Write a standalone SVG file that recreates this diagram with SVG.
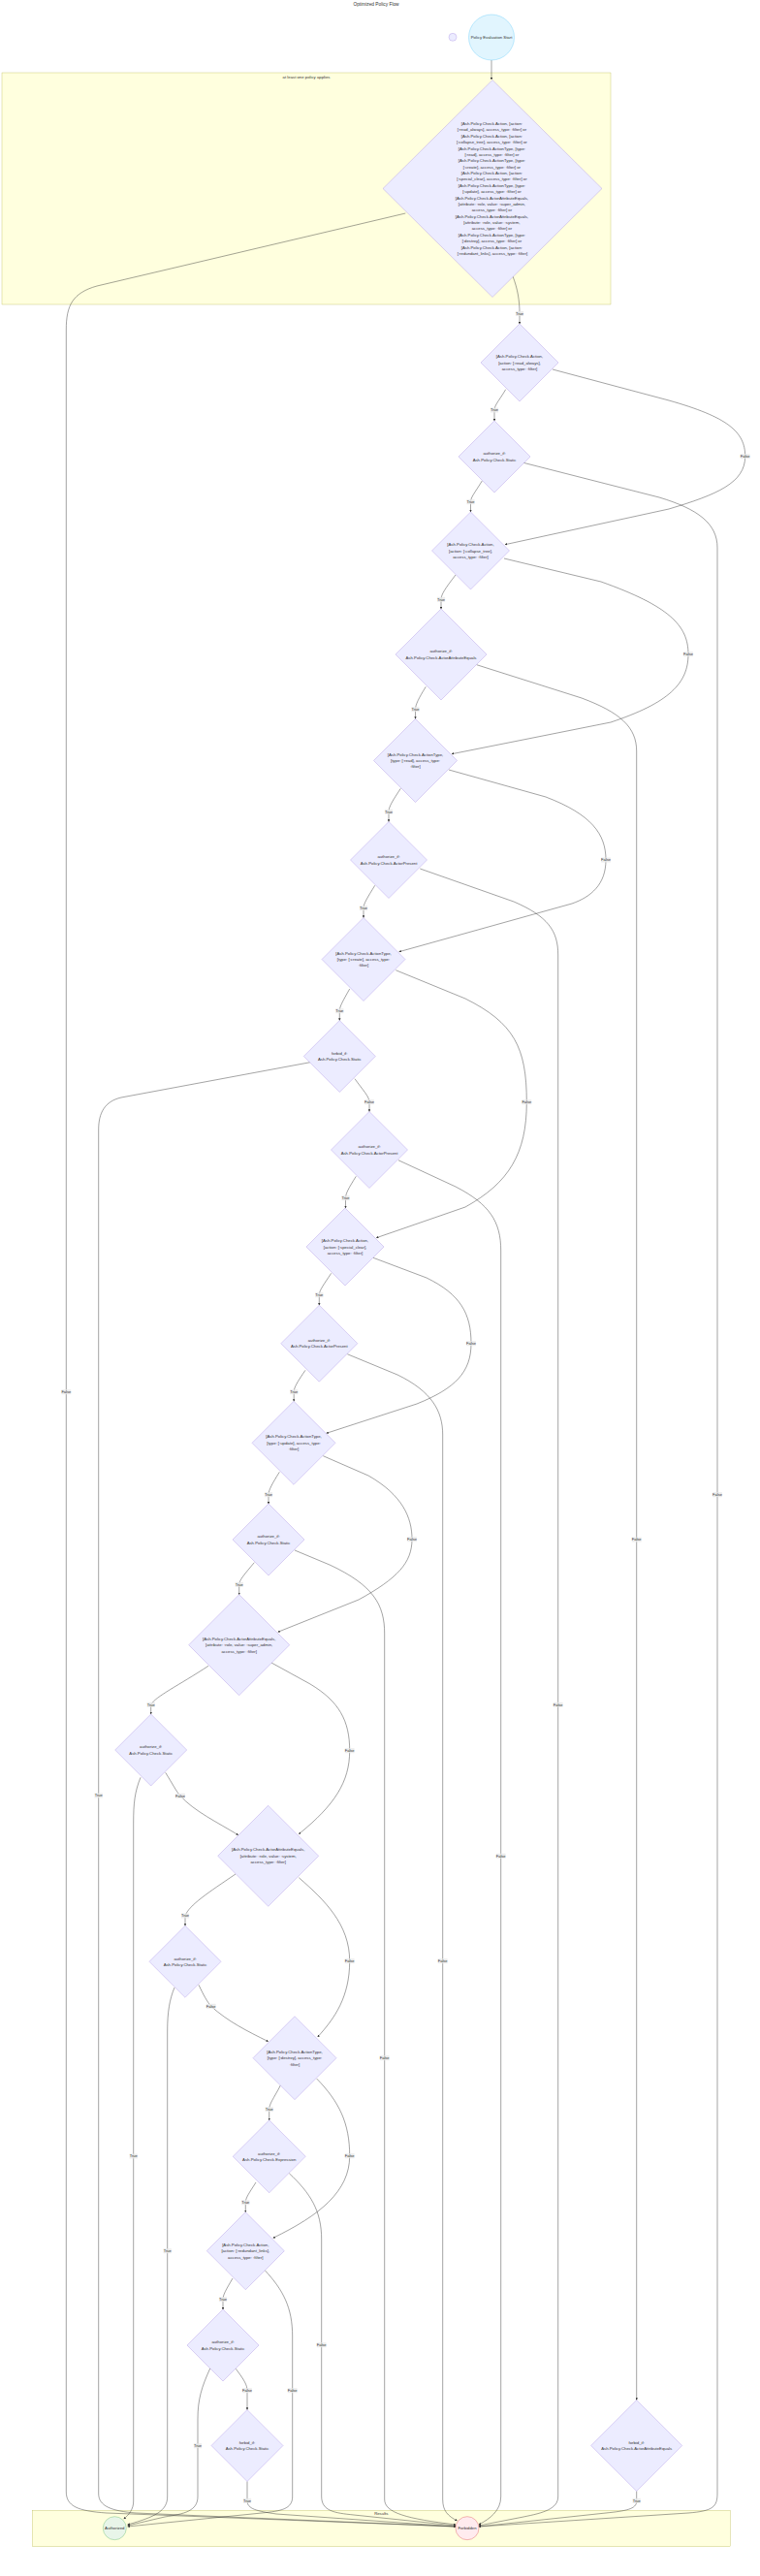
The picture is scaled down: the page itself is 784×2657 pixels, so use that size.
<svg xmlns="http://www.w3.org/2000/svg" width="784" height="2657" viewBox="0 0 784 2657">
<style>
text{font-family:"Liberation Sans",Arial,sans-serif;fill:#333}
.nt{font-size:4.27px;text-anchor:middle}
.ttl{font-size:4.8px;text-anchor:middle}
.cl{fill:#ffffde;stroke:#aaaa33;stroke-width:0.3}
.dm{fill:#ECECFF;stroke:#9370DB;stroke-width:0.3}
.e{fill:none;stroke:#333;stroke-width:0.45}
.lb rect{fill:#e8e8e8;opacity:0.8}
.lb text{font-size:4px;text-anchor:middle}
</style>
<defs>
<marker id="arr" viewBox="0 0 10 10" refX="9" refY="5" markerWidth="2.4" markerHeight="2.4" markerUnits="userSpaceOnUse" orient="auto"><path d="M0,0 L10,5 L0,10 z" fill="#333"/></marker>
</defs>
<rect width="784" height="2657" fill="#fff"/>
<text class="ttl" x="388" y="5.8">Optimized Policy Flow</text>
<g id="cluster-policy">
<rect class="cl" x="2" y="75" width="628" height="239"/>
<text class="nt" x="316" y="80.8">at least one policy applies</text>
</g>
<g id="cluster-results">
<rect class="cl" x="33.3" y="2589.3" width="720" height="37.4"/>
<text class="nt" x="393.3" y="2594">Results</text>
</g>
<g id="connectors">
<path class="e" marker-end="url(#arr)" d="M507,62 L507,82"/>
<path class="e" marker-end="url(#arr)" d="M529,285 C534,298 536,310 536,323 L536,334"/>
<path class="e" marker-end="url(#arr)" d="M521.7,401.7 C515,413 510,418 510,423 L510,434"/>
<path class="e" marker-end="url(#arr)" d="M570,381 L690,413 C750,430 768.7,445 768.7,470.7 C768.7,498 740,510 690,525 L521,561.7"/>
<path class="e" marker-end="url(#arr)" d="M497.3,496 C490,508 485.5,513 485.5,517.7 L485.5,528"/>
<path class="e" marker-end="url(#arr)" d="M540,477.3 L680,513 C720,525 740,540 740,565 L740,2572 C740,2586 735,2590 710,2592 L494,2606"/>
<path class="e" marker-end="url(#arr)" d="M470,593 C460,606 455,613 455,618.3 L455,628"/>
<path class="e" marker-end="url(#arr)" d="M520,576 L620,600 C690,625 710,645 710,674.7 C710,705 690,725 630,745 L466,777.7"/>
<path class="e" marker-end="url(#arr)" d="M439.3,708.3 C432,720 428.5,727 428.5,731.7 L428.5,741.5"/>
<path class="e" marker-end="url(#arr)" d="M491.7,685.7 L600,720 C640,735 656.7,750 656.7,775 L656.7,2475.5"/>
<path class="e" marker-end="url(#arr)" d="M413.3,813.3 C405,826 401,832 401,837.3 L401,847.5"/>
<path class="e" marker-end="url(#arr)" d="M463,794 L563,822 C610,840 625,860 625,887 C625,912 610,925 590,932 L411.7,981.7"/>
<path class="e" marker-end="url(#arr)" d="M386.7,913.3 C379,926 375,932 375,936.7 L375,946.5"/>
<path class="e" marker-end="url(#arr)" d="M433.3,896 L530,930 C565,945 575.7,960 575.7,985 L575.7,2575 C575.7,2588 560,2592 540,2596 L494,2605"/>
<path class="e" marker-end="url(#arr)" d="M360.7,1020 C354,1032 350.3,1038 350.3,1042.7 L350.3,1052.5"/>
<path class="e" marker-end="url(#arr)" d="M408.3,1000.7 L480,1030 C530,1055 543.3,1080 543.3,1136.7 C543.3,1190 525,1220 480,1245 L388.3,1276.7"/>
<path class="e" marker-end="url(#arr)" d="M366,1112.7 C374,1124 381,1131 381,1136.7 L381,1146.5"/>
<path class="e" marker-end="url(#arr)" d="M320,1095.7 L125,1132 C108,1136 101.7,1148 101.7,1165 L101.7,2572 C101.7,2585 115,2590 140,2592 L470,2606"/>
<path class="e" marker-end="url(#arr)" d="M367.3,1213.3 C360,1225 356.5,1231 356.5,1235.7 L356.5,1246"/>
<path class="e" marker-end="url(#arr)" d="M411,1196.7 L470,1224 C505,1242 516.7,1260 516.7,1290 L516.7,2575 C516.7,2590 505,2598 494,2604"/>
<path class="e" marker-end="url(#arr)" d="M341.7,1313.3 C334,1325 329.3,1331 329.3,1335.7 L329.3,1346.2"/>
<path class="e" marker-end="url(#arr)" d="M385,1297.3 L440,1318 C475,1335 486,1355 486,1385.7 C486,1415 470,1432 430,1448 L336.7,1478.3"/>
<path class="e" marker-end="url(#arr)" d="M315,1413.3 C307,1425 303.2,1431 303.2,1435.7 L303.2,1445.3"/>
<path class="e" marker-end="url(#arr)" d="M358.3,1396.7 L410,1418 C445,1435 456.7,1455 456.7,1480 L456.7,2578 C456.7,2590 462,2595 471.5,2600"/>
<path class="e" marker-end="url(#arr)" d="M288.3,1518.3 C281,1530 277,1537 277,1541.7 L277,1551"/>
<path class="e" marker-end="url(#arr)" d="M333.3,1501.7 L380,1522 C415,1542 425,1565 425,1587.7 C425,1612 410,1628 370,1650 L286.7,1683.3"/>
<path class="e" marker-end="url(#arr)" d="M262.3,1611.7 C252,1624 246.7,1630 246.7,1634.3 L246.7,1644.7"/>
<path class="e" marker-end="url(#arr)" d="M304,1599 L340,1614 C385,1635 396.7,1655 396.7,1685 L396.7,2578 C396.7,2592 420,2598 470,2604"/>
<path class="e" marker-end="url(#arr)" d="M215,1718.3 C185,1738 160,1750 155.7,1758.3 L155.7,1768"/>
<path class="e" marker-end="url(#arr)" d="M280,1715 L320,1737 C350,1755 360.7,1775 360.7,1805.7 C360.7,1838 345,1862 308.3,1891.7"/>
<path class="e" marker-end="url(#arr)" d="M145,1833.3 C139,1848 137.7,1860 137.7,1880 L137.7,2580 C137.7,2588 133,2594 127.7,2598"/>
<path class="e" marker-end="url(#arr)" d="M170.7,1828.3 C178,1840 182,1848 186,1852.3 C200,1868 225,1880 245.7,1892.7"/>
<path class="e" marker-end="url(#arr)" d="M243,1933 C215,1952 195,1965 191,1976 L191,1986.3"/>
<path class="e" marker-end="url(#arr)" d="M308.3,1936.7 C335,1960 360.7,1985 360.7,2022.7 C360.7,2060 345,2082 327.7,2101"/>
<path class="e" marker-end="url(#arr)" d="M180,2050 C175,2062 172.7,2075 172.7,2095 L172.7,2575 C172.7,2590 160,2596 131.7,2604"/>
<path class="e" marker-end="url(#arr)" d="M205,2047.3 C210,2058 214,2065 217.7,2069.3 C235,2085 255,2095 276.7,2105.7"/>
<path class="e" marker-end="url(#arr)" d="M289.3,2151 C282,2165 277.7,2170 277.7,2175.7 L277.7,2186.8"/>
<path class="e" marker-end="url(#arr)" d="M326.7,2144 C350,2168 360.7,2190 360.7,2223.7 C360.7,2260 330,2285 281.7,2308.3"/>
<path class="e" marker-end="url(#arr)" d="M264,2251 C257,2262 253.3,2267 253.3,2271.7 L253.3,2281.7"/>
<path class="e" marker-end="url(#arr)" d="M298.3,2241.7 C320,2262 331.7,2280 331.7,2310 L331.7,2575 C331.7,2590 345,2592 365,2594 L470,2605"/>
<path class="e" marker-end="url(#arr)" d="M240,2350 C233,2362 230,2367 230,2371.7 L230,2382"/>
<path class="e" marker-end="url(#arr)" d="M273.3,2341.7 C292,2362 301.7,2380 301.7,2410 L301.7,2575 C301.7,2588 290,2590 270,2592 L131.7,2606"/>
<path class="e" marker-end="url(#arr)" d="M216.7,2443 C208,2462 204,2475 204,2495 L204,2575 C204,2590 190,2593 170,2596 L131.7,2605"/>
<path class="e" marker-end="url(#arr)" d="M243.3,2443.3 C252,2455 255,2460 255,2465.7 L255,2485.5"/>
<path class="e" marker-end="url(#arr)" d="M255,2559.5 L255,2579.3 C255,2588 265,2590 285,2593 L470,2606"/>
<path class="e" marker-end="url(#arr)" d="M656.7,2569.5 L656.7,2580 C656.7,2588 645,2590 625,2592 L494,2606"/>
<path class="e" marker-end="url(#arr)" d="M418.3,220 L100,295 C75,302 68.3,315 68.3,340 L68.3,2570 C68.3,2585 80,2590 110,2592 L470,2606"/>
</g>
<g id="edge-labels" class="lb">
<rect x="531.9" y="321" width="8.2" height="5"/><text x="536" y="324.9">True</text>
<rect x="505.9" y="420.5" width="8.2" height="5"/><text x="510" y="424.4">True</text>
<rect x="763.8" y="468.2" width="9.8" height="5"/><text x="768.7" y="472.1">False</text>
<rect x="481.4" y="515.2" width="8.2" height="5"/><text x="485.5" y="519.1">True</text>
<rect x="705.1" y="672.2" width="9.8" height="5"/><text x="710" y="676.1">False</text>
<rect x="450.9" y="615.8" width="8.2" height="5"/><text x="455" y="619.7">True</text>
<rect x="424.4" y="729.2" width="8.2" height="5"/><text x="428.5" y="733.1">True</text>
<rect x="620.1" y="884.5" width="9.8" height="5"/><text x="625" y="888.4">False</text>
<rect x="396.9" y="834.8" width="8.2" height="5"/><text x="401" y="838.7">True</text>
<rect x="370.9" y="934.2" width="8.2" height="5"/><text x="375" y="938.1">True</text>
<rect x="538.4" y="1134.2" width="9.8" height="5"/><text x="543.3" y="1138.1">False</text>
<rect x="346.2" y="1040.2" width="8.2" height="5"/><text x="350.3" y="1044.1">True</text>
<rect x="376.1" y="1134.2" width="9.8" height="5"/><text x="381" y="1138.1">False</text>
<rect x="352.4" y="1233.2" width="8.2" height="5"/><text x="356.5" y="1237.1">True</text>
<rect x="325.2" y="1333.2" width="8.2" height="5"/><text x="329.3" y="1337.1">True</text>
<rect x="481.1" y="1383.2" width="9.8" height="5"/><text x="486" y="1387.1">False</text>
<rect x="299.1" y="1433.2" width="8.2" height="5"/><text x="303.2" y="1437.1">True</text>
<rect x="420.1" y="1585.2" width="9.8" height="5"/><text x="425" y="1589.1">False</text>
<rect x="272.9" y="1539.2" width="8.2" height="5"/><text x="277" y="1543.1">True</text>
<rect x="242.6" y="1631.8" width="8.2" height="5"/><text x="246.7" y="1635.7">True</text>
<rect x="151.6" y="1755.8" width="8.2" height="5"/><text x="155.7" y="1759.7">True</text>
<rect x="355.8" y="1803.2" width="9.8" height="5"/><text x="360.7" y="1807.1">False</text>
<rect x="181.1" y="1849.8" width="9.8" height="5"/><text x="186" y="1853.7">False</text>
<rect x="186.9" y="1973.5" width="8.2" height="5"/><text x="191" y="1977.4">True</text>
<rect x="212.8" y="2066.8" width="9.8" height="5"/><text x="217.7" y="2070.7">False</text>
<rect x="355.8" y="2020.2" width="9.8" height="5"/><text x="360.7" y="2024.1">False</text>
<rect x="273.6" y="2173.2" width="8.2" height="5"/><text x="277.7" y="2177.1">True</text>
<rect x="355.8" y="2221.2" width="9.8" height="5"/><text x="360.7" y="2225.1">False</text>
<rect x="249.2" y="2269.2" width="8.2" height="5"/><text x="253.3" y="2273.1">True</text>
<rect x="225.9" y="2369.2" width="8.2" height="5"/><text x="230" y="2373.1">True</text>
<rect x="296.8" y="2463.2" width="9.8" height="5"/><text x="301.7" y="2467.1">False</text>
<rect x="250.1" y="2463.2" width="9.8" height="5"/><text x="255" y="2467.1">False</text>
<rect x="250.9" y="2576.8" width="8.2" height="5"/><text x="255" y="2580.7">True</text>
<rect x="652.6" y="2576.8" width="8.2" height="5"/><text x="656.7" y="2580.7">True</text>
<rect x="326.8" y="2416.2" width="9.8" height="5"/><text x="331.7" y="2420.1">False</text>
<rect x="168.6" y="2319.2" width="8.2" height="5"/><text x="172.7" y="2323.1">True</text>
<rect x="199.9" y="2520.2" width="8.2" height="5"/><text x="204" y="2524.1">True</text>
<rect x="133.6" y="2221.5" width="8.2" height="5"/><text x="137.7" y="2225.4">True</text>
<rect x="97.6" y="1849.5" width="8.2" height="5"/><text x="101.7" y="1853.4">True</text>
<rect x="63.4" y="1433.2" width="9.8" height="5"/><text x="68.3" y="1437.1">False</text>
<rect x="391.8" y="2120.2" width="9.8" height="5"/><text x="396.7" y="2124.1">False</text>
<rect x="451.8" y="2020.2" width="9.8" height="5"/><text x="456.7" y="2024.1">False</text>
<rect x="511.8" y="1911.8" width="9.8" height="5"/><text x="516.7" y="1915.7">False</text>
<rect x="570.8" y="1755.8" width="9.8" height="5"/><text x="575.7" y="1759.7">False</text>
<rect x="651.8" y="1585.5" width="9.8" height="5"/><text x="656.7" y="1589.4">False</text>
<rect x="735.1" y="1539.2" width="9.8" height="5"/><text x="740" y="1543.1">False</text>
</g>
<g id="start">
<circle cx="507" cy="38.5" r="23.5" fill="#e1f5fe" stroke="#81d4fa" stroke-width="0.5"/>
<text class="nt" x="507" y="40">Policy Evaluation Start</text>
</g>
<g id="start-marker">
<circle cx="467" cy="38.3" r="4" fill="#ECECFF" stroke="#9370DB" stroke-width="0.3"/>
</g>
<g id="check-any">
<polygon class="dm" points="508,82.5 621,194.5 508,306.5 395,194.5"/>
<text class="nt" x="508" y="129">
<tspan x="508">[Ash.Policy.Check.Action, [action:</tspan>
<tspan x="508" dy="6.38">[:read_always], access_type: :filter] or</tspan>
<tspan x="508" dy="6.38">[Ash.Policy.Check.Action, [action:</tspan>
<tspan x="508" dy="6.38">[:collapse_tree], access_type: :filter] or</tspan>
<tspan x="508" dy="6.38">[Ash.Policy.Check.ActionType, [type:</tspan>
<tspan x="508" dy="6.38">[:read], access_type: :filter] or</tspan>
<tspan x="508" dy="6.38">[Ash.Policy.Check.ActionType, [type:</tspan>
<tspan x="508" dy="6.38">[:create], access_type: :filter] or</tspan>
<tspan x="508" dy="6.38">[Ash.Policy.Check.Action, [action:</tspan>
<tspan x="508" dy="6.38">[:special_clear], access_type: :filter] or</tspan>
<tspan x="508" dy="6.38">[Ash.Policy.Check.ActionType, [type:</tspan>
<tspan x="508" dy="6.38">[:update], access_type: :filter] or</tspan>
<tspan x="508" dy="6.38">[Ash.Policy.Check.ActorAttributeEquals,</tspan>
<tspan x="508" dy="6.38">[attribute: :role, value: :super_admin,</tspan>
<tspan x="508" dy="6.38">access_type: :filter] or</tspan>
<tspan x="508" dy="6.38">[Ash.Policy.Check.ActorAttributeEquals,</tspan>
<tspan x="508" dy="6.38">[attribute: :role, value: :system,</tspan>
<tspan x="508" dy="6.38">access_type: :filter] or</tspan>
<tspan x="508" dy="6.38">[Ash.Policy.Check.ActionType, [type:</tspan>
<tspan x="508" dy="6.38">[:destroy], access_type: :filter] or</tspan>
<tspan x="508" dy="6.38">[Ash.Policy.Check.Action, [action:</tspan>
<tspan x="508" dy="6.38">[:redundant_links], access_type: :filter]</tspan>
</text>
</g>
<g id="p1-action">
<polygon class="dm" points="536,334 576,374 536,414 496,374"/>
<text class="nt"><tspan x="536" y="369.1">[Ash.Policy.Check.Action,</tspan><tspan x="536" y="375.5">[action: [:read_always],</tspan><tspan x="536" y="381.9">access_type: :filter]</tspan></text>
</g>
<g id="p1-auth">
<polygon class="dm" points="510,434 547,471 510,508 473,471"/>
<text class="nt"><tspan x="510" y="469.3">authorize_if:</tspan><tspan x="510" y="475.7">Ash.Policy.Check.Static</tspan></text>
</g>
<g id="p2-action">
<polygon class="dm" points="485.5,528 525.5,568 485.5,608 445.5,568"/>
<text class="nt"><tspan x="485.5" y="563.1">[Ash.Policy.Check.Action,</tspan><tspan x="485.5" y="569.5">[action: [:collapse_tree],</tspan><tspan x="485.5" y="575.9">access_type: :filter]</tspan></text>
</g>
<g id="p2-auth">
<polygon class="dm" points="455,628 502,675 455,722 408,675"/>
<text class="nt"><tspan x="455" y="673.3">authorize_if:</tspan><tspan x="455" y="679.7">Ash.Policy.Check.ActorAttributeEquals</tspan></text>
</g>
<g id="p3-type">
<polygon class="dm" points="428.5,741.5 471.5,784.5 428.5,827.5 385.5,784.5"/>
<text class="nt"><tspan x="428.5" y="779.6">[Ash.Policy.Check.ActionType,</tspan><tspan x="428.5" y="786">[type: [:read], access_type:</tspan><tspan x="428.5" y="792.4">:filter]</tspan></text>
</g>
<g id="p3-auth">
<polygon class="dm" points="401,847.5 440.5,887 401,926.5 361.5,887"/>
<text class="nt"><tspan x="401" y="885.3">authorize_if:</tspan><tspan x="401" y="891.7">Ash.Policy.Check.ActorPresent</tspan></text>
</g>
<g id="p4-type">
<polygon class="dm" points="375,946.5 418,989.5 375,1032.5 332,989.5"/>
<text class="nt"><tspan x="375" y="984.6">[Ash.Policy.Check.ActionType,</tspan><tspan x="375" y="991">[type: [:create], access_type:</tspan><tspan x="375" y="997.4">:filter]</tspan></text>
</g>
<g id="p4-forbid">
<polygon class="dm" points="350.3,1052.5 387.3,1089.5 350.3,1126.5 313.3,1089.5"/>
<text class="nt"><tspan x="350.3" y="1087.8">forbid_if:</tspan><tspan x="350.3" y="1094.2">Ash.Policy.Check.Static</tspan></text>
</g>
<g id="p4-auth">
<polygon class="dm" points="381,1146.5 420.5,1186 381,1225.5 341.5,1186"/>
<text class="nt"><tspan x="381" y="1184.3">authorize_if:</tspan><tspan x="381" y="1190.7">Ash.Policy.Check.ActorPresent</tspan></text>
</g>
<g id="p5-action">
<polygon class="dm" points="356,1246 396,1286 356,1326 316,1286"/>
<text class="nt"><tspan x="356" y="1281.1">[Ash.Policy.Check.Action,</tspan><tspan x="356" y="1287.5">[action: [:special_clear],</tspan><tspan x="356" y="1293.9">access_type: :filter]</tspan></text>
</g>
<g id="p5-auth">
<polygon class="dm" points="329.3,1346.2 368.8,1385.7 329.3,1425.2 289.8,1385.7"/>
<text class="nt"><tspan x="329.3" y="1384">authorize_if:</tspan><tspan x="329.3" y="1390.4">Ash.Policy.Check.ActorPresent</tspan></text>
</g>
<g id="p6-type">
<polygon class="dm" points="303,1445.3 346,1488.3 303,1531.3 260,1488.3"/>
<text class="nt"><tspan x="303" y="1483.4">[Ash.Policy.Check.ActionType,</tspan><tspan x="303" y="1489.8">[type: [:update], access_type:</tspan><tspan x="303" y="1496.2">:filter]</tspan></text>
</g>
<g id="p6-auth">
<polygon class="dm" points="277,1551 314,1588 277,1625 240,1588"/>
<text class="nt"><tspan x="277" y="1586.3">authorize_if:</tspan><tspan x="277" y="1592.7">Ash.Policy.Check.Static</tspan></text>
</g>
<g id="p7-attr">
<polygon class="dm" points="246.7,1644.7 298.7,1696.7 246.7,1748.7 194.7,1696.7"/>
<text class="nt"><tspan x="246.7" y="1691.8">[Ash.Policy.Check.ActorAttributeEquals,</tspan><tspan x="246.7" y="1698.2">[attribute: :role, value: :super_admin,</tspan><tspan x="246.7" y="1704.6">access_type: :filter]</tspan></text>
</g>
<g id="p7-auth">
<polygon class="dm" points="155.7,1768 192.7,1805 155.7,1842 118.7,1805"/>
<text class="nt"><tspan x="155.7" y="1803.3">authorize_if:</tspan><tspan x="155.7" y="1809.7">Ash.Policy.Check.Static</tspan></text>
</g>
<g id="p8-attr">
<polygon class="dm" points="276.7,1862.3 328.7,1914.3 276.7,1966.3 224.7,1914.3"/>
<text class="nt"><tspan x="276.7" y="1909.4">[Ash.Policy.Check.ActorAttributeEquals,</tspan><tspan x="276.7" y="1915.8">[attribute: :role, value: :system,</tspan><tspan x="276.7" y="1922.2">access_type: :filter]</tspan></text>
</g>
<g id="p8-auth">
<polygon class="dm" points="191,1986.3 228,2023.3 191,2060.3 154,2023.3"/>
<text class="nt"><tspan x="191" y="2021.6">authorize_if:</tspan><tspan x="191" y="2028">Ash.Policy.Check.Static</tspan></text>
</g>
<g id="p9-type">
<polygon class="dm" points="304,2079.7 347,2122.7 304,2165.7 261,2122.7"/>
<text class="nt"><tspan x="304" y="2117.8">[Ash.Policy.Check.ActionType,</tspan><tspan x="304" y="2124.2">[type: [:destroy], access_type:</tspan><tspan x="304" y="2130.6">:filter]</tspan></text>
</g>
<g id="p9-auth">
<polygon class="dm" points="277.7,2186.8 315.2,2224.3 277.7,2261.8 240.2,2224.3"/>
<text class="nt"><tspan x="277.7" y="2222.6">authorize_if:</tspan><tspan x="277.7" y="2229">Ash.Policy.Check.Expression</tspan></text>
</g>
<g id="p10-action">
<polygon class="dm" points="253.3,2281.7 293.3,2321.7 253.3,2361.7 213.3,2321.7"/>
<text class="nt"><tspan x="253.3" y="2316.8">[Ash.Policy.Check.Action,</tspan><tspan x="253.3" y="2323.2">[action: [:redundant_links],</tspan><tspan x="253.3" y="2329.6">access_type: :filter]</tspan></text>
</g>
<g id="p10-auth">
<polygon class="dm" points="230,2382 267,2419 230,2456 193,2419"/>
<text class="nt"><tspan x="230" y="2417.3">authorize_if:</tspan><tspan x="230" y="2423.7">Ash.Policy.Check.Static</tspan></text>
</g>
<g id="p10-forbid">
<polygon class="dm" points="255,2485.5 292,2522.5 255,2559.5 218,2522.5"/>
<text class="nt"><tspan x="255" y="2520.8">forbid_if:</tspan><tspan x="255" y="2527.2">Ash.Policy.Check.Static</tspan></text>
</g>
<g id="p2-forbid">
<polygon class="dm" points="656.7,2475.5 703.7,2522.5 656.7,2569.5 609.7,2522.5"/>
<text class="nt"><tspan x="656.7" y="2520.8">forbid_if:</tspan><tspan x="656.7" y="2527.2">Ash.Policy.Check.ActorAttributeEquals</tspan></text>
</g>
<g id="authorized">
<circle cx="118.3" cy="2607.7" r="12" fill="#e8f5e9" stroke="#81c784" stroke-width="0.5"/>
<text class="nt" x="118.3" y="2609.2">Authorized</text>
</g>
<g id="forbidden">
<circle cx="482" cy="2607.7" r="12" fill="#ffebee" stroke="#e57373" stroke-width="0.5"/>
<text class="nt" x="482" y="2609.2">Forbidden</text>
</g>
</svg>
